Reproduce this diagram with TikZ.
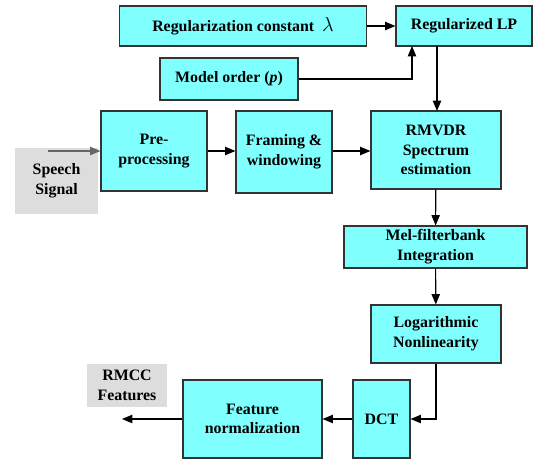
\documentclass[tikz,border=0pt]{standalone}
\usepackage{fontspec}
\setmainfont{Liberation Serif}
\usetikzlibrary{positioning,calc,arrows.meta}

\definecolor{boxcyan}{HTML}{80FFFF}
\definecolor{boxgray}{HTML}{DDDDDD}

\begin{document}
\begin{tikzpicture}[x=0.025cm,y=-0.025cm,>={Triangle[length=2.6mm,width=2.1mm]},
                       block/.style={rectangle,fill=boxcyan,draw=black!80,thick,
                                     align=center,font=\fontsize{11.3}{14}\selectfont\bfseries,
                                     inner sep=2pt},
                       io/.style={rectangle,fill=boxgray,align=center,
                                  font=\fontsize{11.3}{14}\selectfont\bfseries,inner sep=2pt},
                       link/.style={->,thick}
                      ]
   \useasboundingbox (0,0) rectangle (555,461);
   % parameter blocks
   \node[block,minimum width=6.175cm,minimum height=1.0cm] (regc) at (243,26) {Regularization constant \ {\Large$\lambda$}};
   \node[block,minimum width=3.4cm,minimum height=1.0cm] (reglp) at (464,26) {Regularized LP};
   \node[block,minimum width=3.45cm,minimum height=1.05cm] (order) at (229,79) {Model order (\textit{p})};
   % main chain
   \node[io,minimum width=2.075cm,minimum height=1.65cm] (speech) at (56.5,181) {Speech\\Signal};
   \node[block,minimum width=2.65cm,minimum height=2.0cm] (pre) at (154,151) {Pre-\\processing};
   \node[block,minimum width=2.4cm,minimum height=2.05cm] (frame) at (284,152) {Framing \&\\windowing};
   \node[block,minimum width=3.25cm,minimum height=1.95cm] (rmvdr) at (436,150) {RMVDR\\Spectrum\\estimation};
   \node[block,minimum width=4.575cm,minimum height=1.05cm] (mel) at (435.5,247) {Mel-filterbank\\Integration};
   \node[block,minimum width=3.25cm,minimum height=1.45cm] (log) at (436,334) {Logarithmic\\Nonlinearity};
   \node[block,minimum width=1.425cm,minimum height=1.95cm] (dct) at (381.5,419) {DCT};
   \node[block,minimum width=3.475cm,minimum height=1.95cm] (norm) at (252.5,419) {Feature\\normalization};
   \node[io,minimum width=2.0cm,minimum height=1.075cm] (rmcc) at (127,385.5) {RMCC\\Features};
   \coordinate (sin) at (48,151);
   \coordinate (fout) at (122,419);

   \draw[link] (regc) -- (reglp);
   \draw[link] (order.east) -| (412,46);
   \draw[link] (437,46) -- (437,111);
   \draw[->,thick,black!60] (sin) -- (pre.west);
   \draw[link] (pre) -- (pre -| frame.west);
   \draw[link] (frame.east |- pre) -- (rmvdr.west |- pre);
   \draw[link] (rmvdr) -- (mel);
   \draw[link] (mel) -- (log);
   \draw[link] (log.south) |- (dct.east);
   \draw[link] (dct) -- (norm);
   \draw[link] (norm) -- (fout);
 \end{tikzpicture}
\end{document}
